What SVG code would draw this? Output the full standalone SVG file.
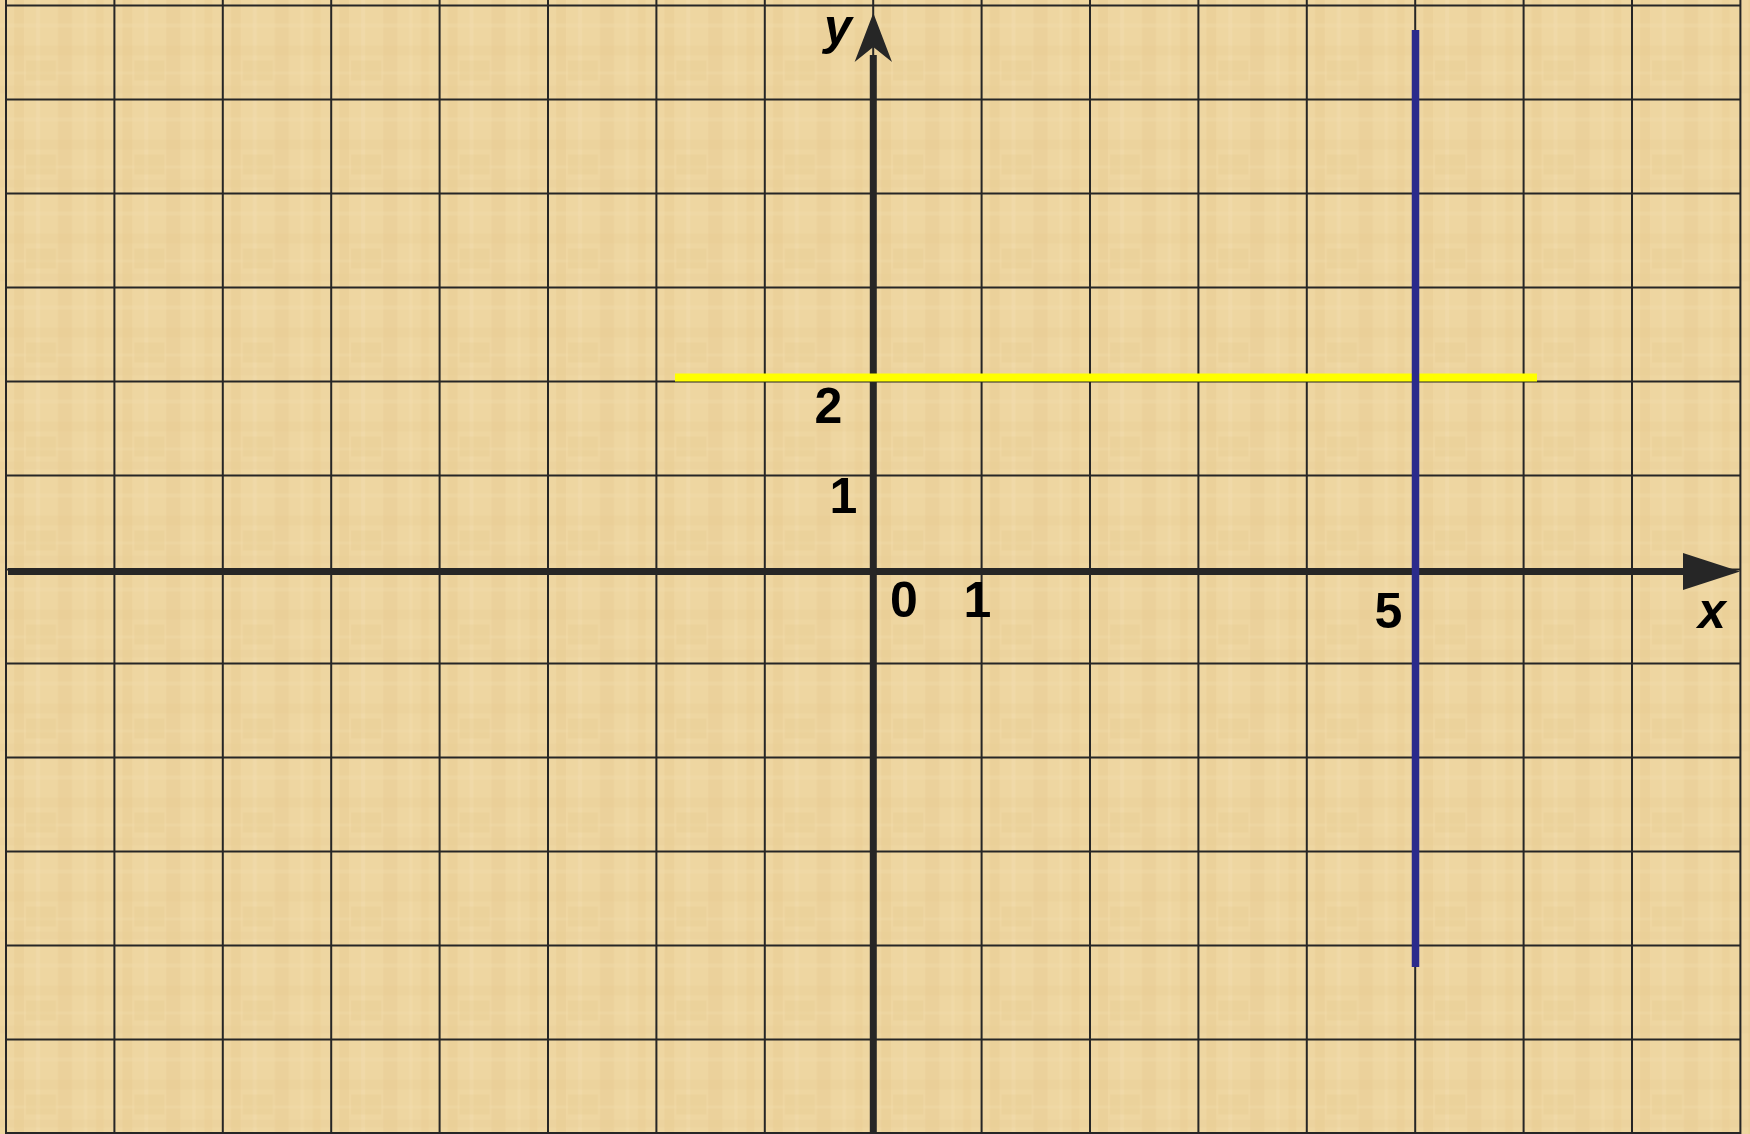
<svg xmlns="http://www.w3.org/2000/svg" width="1750" height="1134" viewBox="0 0 1750 1134">
  <style>
    .grid line { stroke: #262626; stroke-width: 2; }
    .axis { stroke: #262626; stroke-width: 7; fill: none; }
    .head { fill: #262626; }
    .num { font-family: "Liberation Sans", Arial, sans-serif; font-weight: bold; font-size: 50px; fill: #000; text-anchor: middle; }
    .var { font-family: "Liberation Sans", Arial, sans-serif; font-weight: bold; font-style: italic; font-size: 50px; fill: #000; text-anchor: middle; }
  </style>
  <defs>
    <pattern id="papyrus" x="6" y="5.5" width="108.4" height="94" patternUnits="userSpaceOnUse">
      <rect width="108.4" height="94" fill="#EED6A1"/>
      <rect x="8" y="0" width="10" height="94" fill="#E6C98C" opacity="0.3"/>
      <rect x="30" y="0" width="4" height="94" fill="#F4E0B4" opacity="0.35"/>
      <rect x="52" y="0" width="14" height="94" fill="#E4C588" opacity="0.25"/>
      <rect x="78" y="0" width="3" height="94" fill="#F3DFB2" opacity="0.35"/>
      <rect x="90" y="0" width="8" height="94" fill="#E8CC90" opacity="0.3"/>
      <rect x="0" y="18" width="108.4" height="4" fill="#F3DFB2" opacity="0.3"/>
      <rect x="0" y="40" width="108.4" height="10" fill="#E5C78B" opacity="0.2"/>
      <rect x="0" y="66" width="108.4" height="3" fill="#F3DFB2" opacity="0.3"/>
      <rect x="0" y="80" width="108.4" height="8" fill="#E9CD93" opacity="0.25"/>
      <rect x="20" y="55" width="30" height="20" fill="#E2C282" opacity="0.2"/>
    </pattern>
  </defs>

  <rect id="background" x="0" y="0" width="1750" height="1134" fill="url(#papyrus)"/>

  <g id="grid" class="grid">
    <line x1="6" y1="0" x2="6" y2="1134"/>
    <line x1="114.4" y1="0" x2="114.4" y2="1134"/>
    <line x1="222.8" y1="0" x2="222.8" y2="1134"/>
    <line x1="331.2" y1="0" x2="331.2" y2="1134"/>
    <line x1="439.6" y1="0" x2="439.6" y2="1134"/>
    <line x1="548" y1="0" x2="548" y2="1134"/>
    <line x1="656.4" y1="0" x2="656.4" y2="1134"/>
    <line x1="764.8" y1="0" x2="764.8" y2="1134"/>
    <line x1="873.2" y1="0" x2="873.2" y2="1134"/>
    <line x1="981.6" y1="0" x2="981.6" y2="1134"/>
    <line x1="1090" y1="0" x2="1090" y2="1134"/>
    <line x1="1198.4" y1="0" x2="1198.4" y2="1134"/>
    <line x1="1306.8" y1="0" x2="1306.8" y2="1134"/>
    <line x1="1415.2" y1="0" x2="1415.2" y2="1134"/>
    <line x1="1523.6" y1="0" x2="1523.6" y2="1134"/>
    <line x1="1632" y1="0" x2="1632" y2="1134"/>
    <line x1="1740.4" y1="0" x2="1740.4" y2="1134"/>
    <line x1="6" y1="5.5" x2="1740.4" y2="5.5"/>
    <line x1="6" y1="99.5" x2="1740.4" y2="99.5"/>
    <line x1="6" y1="193.5" x2="1740.4" y2="193.5"/>
    <line x1="6" y1="287.5" x2="1740.4" y2="287.5"/>
    <line x1="6" y1="381.5" x2="1740.4" y2="381.5"/>
    <line x1="6" y1="475.5" x2="1740.4" y2="475.5"/>
    <line x1="6" y1="569.5" x2="1740.4" y2="569.5"/>
    <line x1="6" y1="663.5" x2="1740.4" y2="663.5"/>
    <line x1="6" y1="757.5" x2="1740.4" y2="757.5"/>
    <line x1="6" y1="851.5" x2="1740.4" y2="851.5"/>
    <line x1="6" y1="945.5" x2="1740.4" y2="945.5"/>
    <line x1="6" y1="1039.5" x2="1740.4" y2="1039.5"/>
    <line x1="6" y1="1133" x2="1740.4" y2="1133"/>
  </g>

  <g id="connectors">
    <g id="x-axis">
      <line class="axis" x1="8" y1="571.5" x2="1690" y2="571.5"/>
      <polygon class="head" points="1740,571.5 1683,553 1683,590"/>
    </g>
    <g id="y-axis">
      <line class="axis" x1="873.3" y1="1134" x2="873.3" y2="55"/>
      <polygon class="head" points="873.3,13 892,62 873.3,47 854.6,62"/>
    </g>
    <line id="line-y2" x1="675" y1="377.5" x2="1537" y2="377.5" stroke="#FFFF00" stroke-width="8"/>
    <line id="line-x5" x1="1415.5" y1="30" x2="1415.5" y2="967" stroke="#2B2B8C" stroke-width="7.5"/>
  </g>

  <g id="labels">
    <text id="label-y" class="var" x="838" y="44">y</text>
    <text id="label-x" class="var" x="1712" y="628">x</text>
    <text id="label-y2" class="num" x="828.5" y="423">2</text>
    <text id="label-y1" class="num" x="843.5" y="513">1</text>
    <text id="label-0" class="num" x="904" y="617">0</text>
    <text id="label-x1" class="num" x="977.5" y="617">1</text>
    <text id="label-x5" class="num" x="1388.5" y="628">5</text>
  </g>
</svg>
